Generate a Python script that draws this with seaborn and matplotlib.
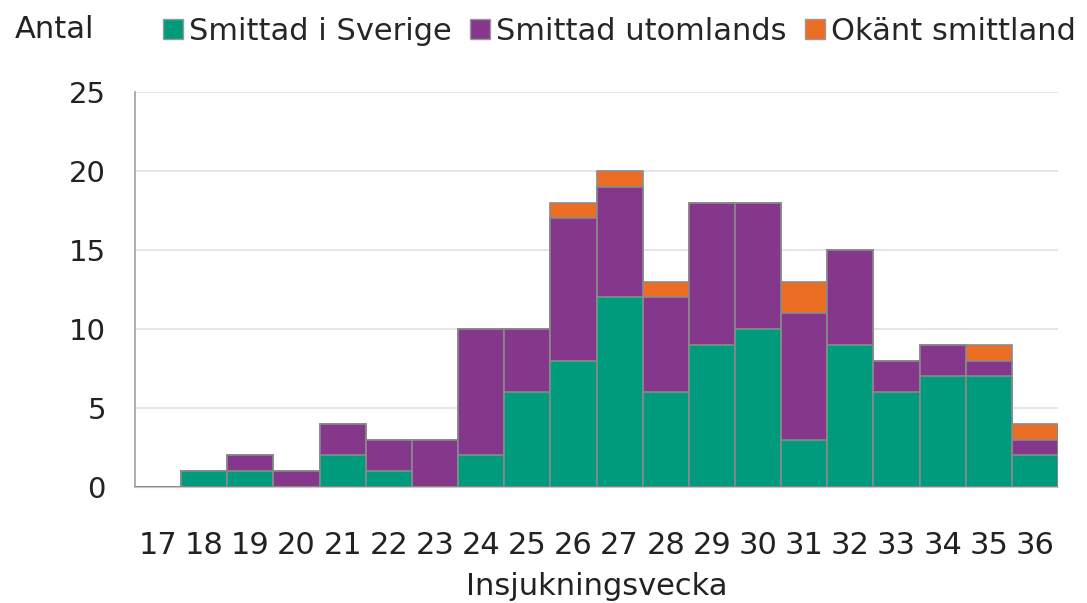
import matplotlib
matplotlib.use("Agg")
import matplotlib.pyplot as plt
import seaborn as sns
import pandas as pd
import numpy as np
from matplotlib.patches import Patch

weeks = [str(w) for w in range(17, 37)]
sverige =   [0, 1, 1, 0, 2, 1, 0, 2, 6, 8, 12, 6, 9, 10, 3, 9, 6, 7, 7, 2]
utomlands = [0, 0, 1, 1, 2, 2, 3, 8, 4, 9, 7, 6, 9, 8, 8, 6, 2, 2, 1, 1]
okant =     [0, 0, 0, 0, 0, 0, 0, 0, 0, 1, 1, 1, 0, 0, 2, 0, 0, 0, 1, 1]
labels = ["Smittad i Sverige", "Smittad utomlands", "Okänt smittland"]
colors = ["#009B7D", "#84378B", "#EC6D24"]

sns.set_style("white")
plt.rcParams['font.family'] = ['DejaVu Sans']

s = np.array(sverige)
u = np.array(utomlands)
o = np.array(okant)
df = pd.DataFrame({"week": weeks, "s": s, "su": s + u, "suo": s + u + o})

fig = plt.figure(figsize=(10.87, 6.03), dpi=100)
ax = fig.add_axes([135/1087, 1 - 487/603, (1058 - 135)/1087, (487 - 92)/603])

edge = "#8a8a8a"
for col, c in zip(["suo", "su", "s"], [colors[2], colors[1], colors[0]]):
    sns.barplot(data=df, x="week", y=col, color=c, width=1.0, edgecolor=edge,
                linewidth=1.2, saturation=1, ax=ax, zorder=3)

ax.set_xlim(-0.5, 19.5)
ax.set_ylim(0, 25)
ax.set_yticks([0, 5, 10, 15, 20, 25])
ax.grid(axis="y", color="#e0e0e0", linewidth=1.2, zorder=0)
ax.set_axisbelow(True)
for sp in ["top", "right"]:
    ax.spines[sp].set_visible(False)
ax.spines["left"].set_color("#a0a0a0")
ax.spines["bottom"].set_color("#c8c8c8")
ax.spines["left"].set_linewidth(1.2)
ax.tick_params(axis="y", length=12, width=1.2, color="#a0a0a0", labelsize=21, pad=9, labelcolor="#222222")
ax.tick_params(axis="x", length=0, labelsize=22, pad=32, labelcolor="#222222")
ax.set_xlabel("Insjukningsvecka", fontsize=22, color="#222222", labelpad=8)
ax.set_ylabel("")

fig.text(15/1087, 1 - 29/603, "Antal", fontsize=22, color="#222222", va="center", ha="left")

handles = [Patch(facecolor=c, edgecolor="#999999", label=l) for c, l in zip(colors, labels)]
fig.legend(handles=handles, loc="center left", bbox_to_anchor=(163/1087, 1 - 31/603), ncol=3,
           frameon=False, fontsize=22, handlelength=0.65, handleheight=0.65, handletextpad=0.2,
           columnspacing=0.6, borderaxespad=0, borderpad=0)

fig.savefig("out.png", dpi=100)
